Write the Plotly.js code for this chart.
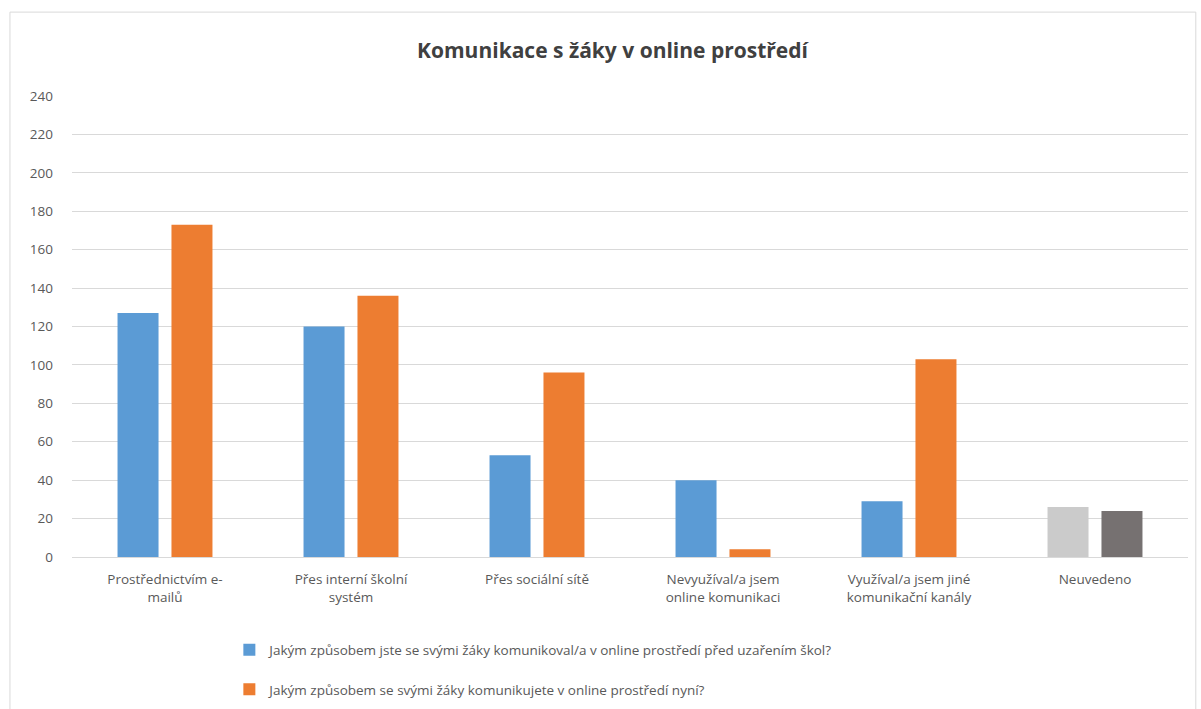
<!DOCTYPE html>
<html>
<head>
<meta charset="utf-8">
<script src="https://cdn.plot.ly/plotly-3.0.1.min.js"></script>
<style>
  body { margin: 0; background: #fff; }
  #plot { width: 1201px; height: 709px; }
</style>
</head>
<body>
<div id="plot"></div>
<script>
// categories (x labels, wrapped like in the original)
let categories = [
  "Prostřednictvím e-<br>mailů",
  "Přes interní školní<br>systém",
  "Přes sociální sítě",
  "Nevyužíval/a jsem<br>online komunikaci",
  "Využíval/a jsem jiné<br>komunikační kanály",
  "Neuvedeno"
];

// values
let beforeValues = [127, 120, 53, 40, 29, 26];
let nowValues = [173, 136, 96, 4, 103, 24];

// series names
let beforeName = "Jakým způsobem jste se svými žáky komunikoval/a v online prostředí před uzařením škol?";
let nowName = "Jakým způsobem se svými žáky komunikujete v online prostředí nyní?";

// colours (last category is grey in the original)
let beforeColors = ["#5B9BD5", "#5B9BD5", "#5B9BD5", "#5B9BD5", "#5B9BD5", "#CBCBCB"];
let nowColors = ["#ED7D31", "#ED7D31", "#ED7D31", "#ED7D31", "#ED7D31", "#767171"];

let yTicks = [0, 20, 40, 60, 80, 100, 120, 140, 160, 180, 200, 220, 240];

let fontFam = "Open Sans, Liberation Sans, sans-serif";

let trace1 = {
  x: categories,
  y: beforeValues,
  name: beforeName,
  type: "bar",
  legendgroup: "a",
  marker: { color: beforeColors },
  hoverinfo: "y"
};

let trace2 = {
  x: categories,
  y: nowValues,
  name: nowName,
  type: "bar",
  legendgroup: "b",
  marker: { color: nowColors },
  hoverinfo: "y"
};

let layout = {
  width: 1201,
  height: 709,
  paper_bgcolor: "#ffffff",
  plot_bgcolor: "#ffffff",
  font: { family: fontFam, color: "#595959", size: 13 },
  title: {
    text: "<b>Komunikace s žáky v online prostředí</b>",
    font: { size: 21, color: "#404040", family: fontFam },
    x: 0.51,
    xanchor: "center",
    y: 0.928,
    yanchor: "middle"
  },
  margin: { l: 72, r: 13, t: 96, b: 152, autoexpand: false },
  barmode: "group",
  bargap: 0.42,
  bargroupgap: 0.24,
  xaxis: {
    type: "category",
    showgrid: false,
    showline: true,
    linecolor: "#D9D9D9",
    linewidth: 1,
    ticks: "",
    ticklabelstandoff: 10,
    tickfont: { size: 13.5, color: "#595959" },
    fixedrange: true
  },
  yaxis: {
    range: [0, 240],
    tickvals: yTicks,
    showgrid: true,
    gridcolor: "#D9D9D9",
    gridwidth: 1,
    zeroline: false,
    showline: false,
    ticks: "",
    ticklabelstandoff: 18,
    tickfont: { size: 13.5, color: "#595959" },
    fixedrange: true
  },
  showlegend: true,
  legend: {
    orientation: "v",
    traceorder: "grouped",
    tracegroupgap: 19,
    x: 0.141,
    xanchor: "left",
    y: -0.168,
    yanchor: "top",
    font: { size: 13.5, color: "#595959" },
    itemwidth: 30,
    bgcolor: "rgba(0,0,0,0)"
  },
  shapes: [
    {
      type: "rect",
      xref: "paper", yref: "paper",
      x0: -0.0556, x1: 1.007, y0: -0.4, y1: 1.182,
      line: { color: "#D9D9D9", width: 1 },
      fillcolor: "rgba(0,0,0,0)"
    }
  ]
};

Plotly.newPlot("plot", [trace1, trace2], layout, { displayModeBar: false, staticPlot: true });
</script>
</body>
</html>
